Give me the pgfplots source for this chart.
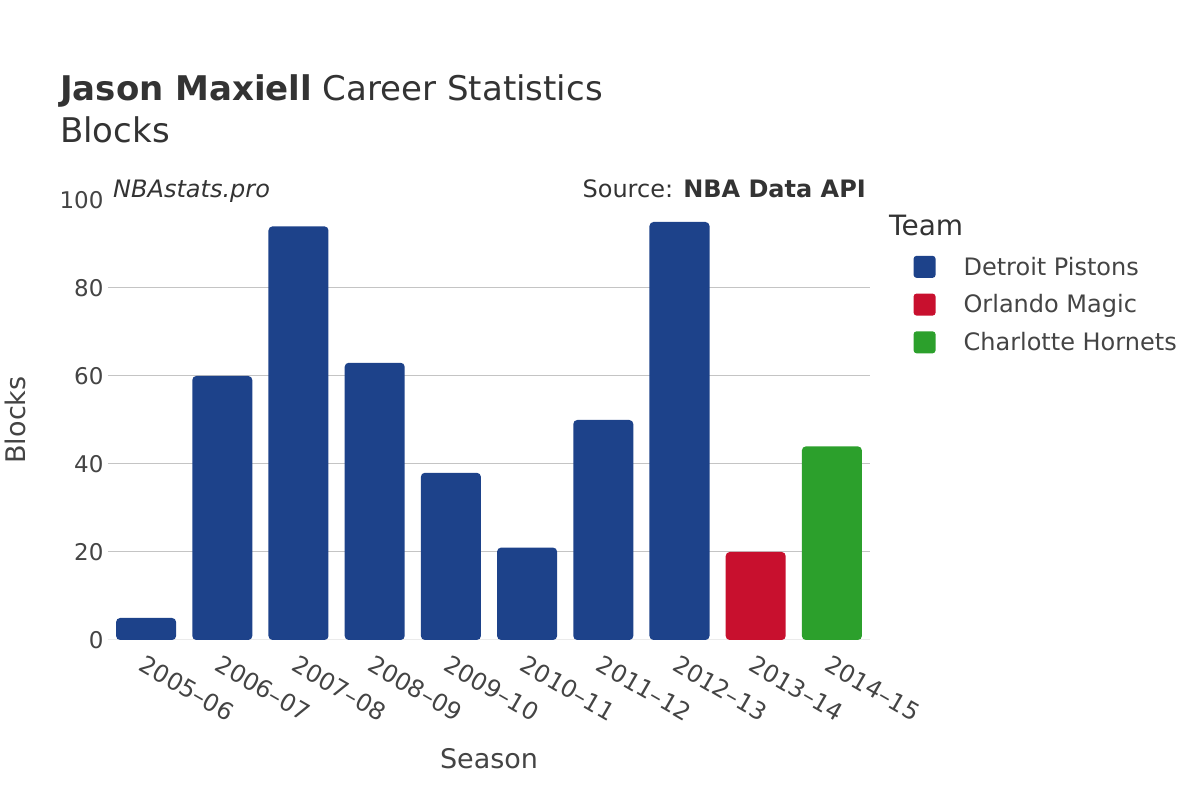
\documentclass[border=0pt]{standalone}
\usepackage{fontspec}
\setmainfont{DejaVu Sans}
\usepackage{pgfplots}
\pgfplotsset{compat=1.18}
\definecolor{det}{HTML}{1D428A}
\definecolor{orl}{HTML}{C8102E}
\definecolor{cha}{HTML}{2CA02C}
\definecolor{txt}{HTML}{444444}
\definecolor{ttl}{HTML}{333333}
\definecolor{gridc}{HTML}{C4C4C4}
\definecolor{zeroc}{HTML}{EBEBEB}
\begin{document}
\begin{tikzpicture}
\useasboundingbox (0,0) rectangle (1200pt,800pt);
\begin{axis}[
  scale only axis, width=762pt, height=440pt,
  at={(108pt,160pt)}, anchor=south west,
  ybar, bar width=60pt, bar shift=0pt,
  xmin=-0.5, xmax=9.5, ymin=0, ymax=100,
  xtick={0,...,9},
  xticklabels={2005–06,2006–07,2007–08,2008–09,2009–10,2010–11,2011–12,2012–13,2013–14,2014–15},
  ytick={0,20,40,60,80}, extra y ticks={100},
  extra y tick style={grid=none},
  ymajorgrids, major grid style={gridc, line width=1pt},
  axis line style={draw=none}, tick style={draw=none},
  /pgf/number format/assume math mode=true,
  ticklabel style={text=txt},
  yticklabel style={font=\fontsize{23}{27}\selectfont, xshift=-1pt},
  xticklabel style={font=\fontsize{24}{28}\selectfont, rotate=-30, anchor=north west, xshift=2pt, yshift=-5pt},
  xlabel={Season}, ylabel={Blocks},
  label style={font=\fontsize{27}{32}\selectfont, text=txt},
  xlabel style={at={(axis description cs:0.5,0)}, anchor=base, yshift=-129pt},
  ylabel style={at={(axis description cs:0,0.5)}, anchor=base, rotate=0, yshift=82pt},
  legend style={at={(axis description cs:1.053,0.88)}, anchor=north west,
    draw=none, fill=none, font=\fontsize{24}{28}\selectfont, text=txt,
    row sep=14pt, cells={anchor=west}},
  legend image code/.code={\fill[#1, rounded corners=3pt] (0pt,-11pt) rectangle (22pt,11pt);},
]
\draw[zeroc, line width=2pt] (axis cs:-0.5,0) -- (axis cs:9.5,0);
\addplot[fill=det, draw=none, rounded corners=4pt] coordinates {
  (0,5) (1,60) (2,94) (3,63) (4,38) (5,21) (6,50) (7,95)};
\addlegendentry{\hspace{26pt}Detroit Pistons}
\addplot[fill=orl, draw=none, rounded corners=4pt] coordinates {(8,20)};
\addlegendentry{\hspace{26pt}Orlando Magic}
\addplot[fill=cha, draw=none, rounded corners=4pt] coordinates {(9,44)};
\addlegendentry{\hspace{26pt}Charlotte Hornets}
\end{axis}
\node[anchor=base west, text=ttl, font=\fontsize{34}{40}\selectfont, inner sep=0pt] at (60pt,800pt-101pt) {\textbf{Jason Maxiell} Career Statistics};
\node[anchor=base west, text=ttl, font=\fontsize{34}{40}\selectfont, inner sep=0pt] at (60pt,800pt-143pt) {Blocks};
\node[anchor=base west, text=ttl, font=\fontsize{24}{28}\selectfont\itshape, inner sep=0pt] at (113pt,800pt-198pt) {NBAstats.pro};
\node[anchor=base east, text=ttl, font=\fontsize{24}{28}\selectfont, inner sep=0pt] at (866pt,800pt-198pt) {Source: \textbf{NBA Data API}};
\node[anchor=base west, text=ttl, font=\fontsize{28}{32}\selectfont, inner sep=0pt] at (889pt,800pt-236pt) {Team};
\end{tikzpicture}
\end{document}
